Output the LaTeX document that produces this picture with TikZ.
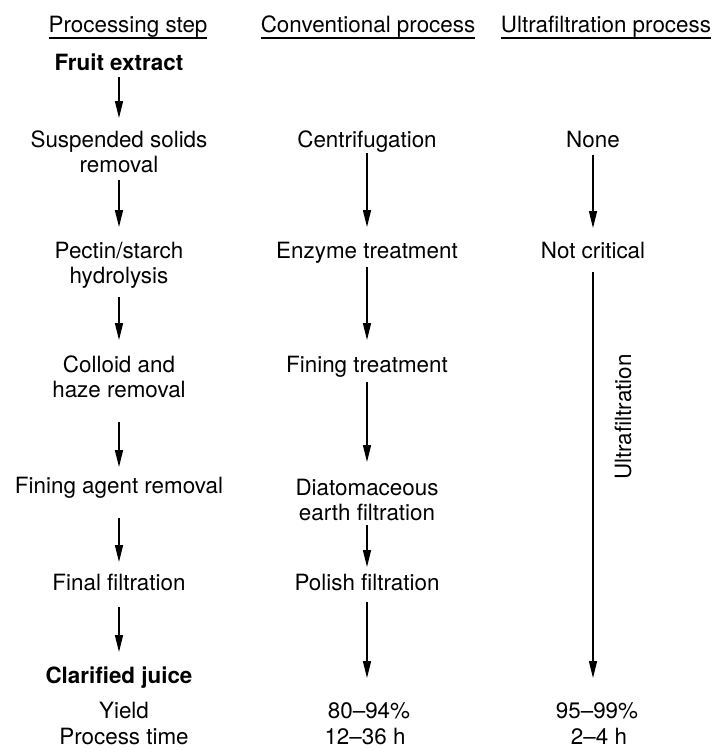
\documentclass[tikz,border=0pt]{standalone}
\usepackage{fontspec}
\setmainfont{TeX Gyre Heros}
\usetikzlibrary{arrows.meta}
\begin{document}
\begin{tikzpicture}[x=0.5pt,y=-0.5pt,
  lbl/.style={inner sep=0pt,outer sep=0pt,anchor=base,font=\fontsize{11.2}{12.5}\selectfont,align=center},
  bld/.style={lbl,font=\fontsize{11.2}{12.5}\selectfont\bfseries},
  arr/.style={line width=0.65pt,-{Triangle[length=8.5pt,width=4pt]}},
  rulel/.style={line width=0.8pt}]
\useasboundingbox (0,0) rectangle (719,750);
% headers
\node[lbl] (h1) at (128,32) {Processing step};
\node[lbl] (h2) at (368,32) {Conventional process};
\node[lbl] (h3) at (606,32) {Ultrafiltration process};
\foreach \h in {h1,h2,h3}
  \draw[rulel] ([yshift=-3pt]\h.base west) -- ([yshift=-3pt]\h.base east);
% column 1 (multi-line nodes are placed at the baseline of their last line)
\node[bld] (fruit) at (119,70) {Fruit extract};
\node[lbl] (susp) at (119,172) {Suspended solids\\removal};
\node[lbl] (pect) at (119,283) {Pectin/starch\\hydrolysis};
\node[lbl] (coll) at (119,397) {Colloid and\\haze removal};
\node[lbl] (fina) at (119,493) {Fining agent removal};
\node[lbl] (finf) at (119,590) {Final filtration};
\node[bld] (clar) at (119,683) {Clarified juice};
\node[lbl] (yld) at (124,718) {Yield};
\node[lbl] (ptime) at (124,744) {Process time};
% column 2
\node[lbl] (cent) at (367,147) {Centrifugation};
\node[lbl] (enz) at (367,258) {Enzyme treatment};
\node[lbl] (fint) at (367,372) {Fining treatment};
\node[lbl] (diat) at (367,520) {Diatomaceous\\earth filtration};
\node[lbl] (pol) at (367,590) {Polish filtration};
\coordinate (c2end) at (367,678);
\node[lbl] (y2) at (369,718) {80–94\%};
\node[lbl] (t2) at (365,744) {12–36 h};
% column 3
\node[lbl] (none) at (593,147) {None};
\node[lbl] (notc) at (593,258) {Not critical};
\coordinate (c3end) at (593,678);
\node[lbl,rotate=90,anchor=center] (uf) at (623,417) {Ultrafiltration};
\node[lbl] (y3) at (597,718) {95–99\%};
\node[lbl] (t3) at (599,744) {2–4 h};
% arrows column 1
\draw[arr,shorten <=3.5pt,shorten >=27pt] (fruit.base) -- (susp.base);
\draw[arr,shorten <=4pt,shorten >=28pt] (susp.base) -- (pect.base);
\draw[arr,shorten <=7pt,shorten >=28.5pt] (pect.base) -- (coll.base);
\draw[arr,shorten <=12.5pt,shorten >=13pt] (coll.base) -- (fina.base);
\draw[arr,shorten <=12.5pt,shorten >=14pt] (fina.base) -- (finf.base);
\draw[arr,shorten <=8.5pt,shorten >=15.5pt] (finf.base) -- (clar.base);
% arrows column 2
\draw[arr,shorten <=3pt,shorten >=15.5pt] (cent.base) -- (enz.base);
\draw[arr,shorten <=4.5pt,shorten >=16pt] (enz.base) -- (fint.base);
\draw[arr,shorten <=5pt,shorten >=29pt] (fint.base) -- (diat.base);
\draw[arr,shorten <=2.5pt,shorten >=11.5pt] (diat.base) -- (pol.base);
\draw[arr,shorten <=6pt] (pol.base) -- (c2end);
% arrows column 3
\draw[arr,shorten <=4pt,shorten >=15pt] (none.base) -- (notc.base);
\draw[arr,shorten <=7pt] (notc.base) -- (c3end);
\end{tikzpicture}
\end{document}
